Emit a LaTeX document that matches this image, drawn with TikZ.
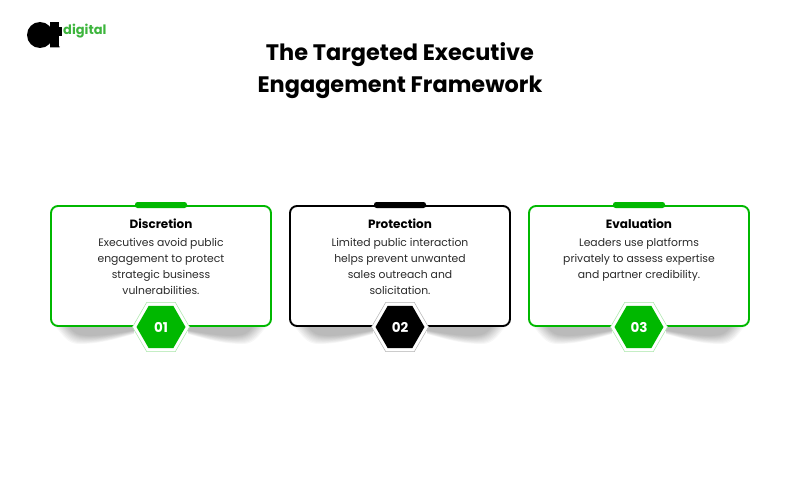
\documentclass[tikz,border=0pt]{standalone}
\usepackage{fontspec}
\setmainfont{Poppins}
\usetikzlibrary{shapes.geometric}
\definecolor{brandgreen}{HTML}{00B800}
\definecolor{logogreen}{HTML}{3DB53D}
\definecolor{bodygrey}{HTML}{2A2A2A}
\tikzset{
  cardbox/.style={draw=#1,line width=1.9pt,rounded corners=7pt,fill=white,minimum width=220pt,minimum height=120pt,inner sep=0pt},
  topbar/.style={fill=#1,rounded corners=2.5pt,minimum width=52pt,minimum height=6pt,inner sep=0pt},
  hexouter/.style={regular polygon,regular polygon sides=6,fill=white,draw=#1,line width=.5pt,minimum size=57pt,inner sep=0pt},
  hexinner/.style={regular polygon,regular polygon sides=6,fill=#1,minimum size=49pt,inner sep=0pt,text=white,font=\bfseries\fontsize{13.5}{16}\selectfont},
  cardhead/.style={font=\bfseries\fontsize{12}{15}\selectfont,text=black,anchor=center,inner sep=0pt},
  cardbody/.style={font=\fontsize{10.8}{16}\selectfont,text=bodygrey,align=center,anchor=north,inner sep=0pt},
  titletext/.style={font=\bfseries\fontsize{22.4}{32}\selectfont,text=black,align=center,inner sep=0pt},
}
\newcommand{\softshadow}[2]{% centre x, direction
  \foreach \k in {0,...,9}{
    \fill[black,opacity=0.033]
      ({#1+#2*27},326) -- ({#1+#2*(106-\k*1.5)},326)
      .. controls ({#1+#2*(99-\k*1.5)},{334+\k*.2}) and ({#1+#2*(94-\k*1.5)},{344-\k*.9}) .. ({#1+#2*(82-\k*1.5)},{344-\k*.9})
      .. controls ({#1+#2*(60)},{344-\k*.9}) and ({#1+#2*(42)},{338-\k*.5}) .. ({#1+#2*27},{334-\k*.4}) -- cycle;
  }
}
\begin{document}
\begin{tikzpicture}[x=1pt,y=-1pt]
\useasboundingbox (0,0) rectangle (800,500);
% logo
\fill[black] (40,35) circle (13);
\fill[black] (50,22) rectangle (59,47.5);
\fill[black] (59,47.5) -- (50,47.5) -- (50,40) -- (60,47) -- cycle;
\fill[black] (48,27) rectangle (62,36);
\node[anchor=west,inner sep=0pt,text=logogreen,font=\bfseries\fontsize{13}{16}\selectfont] (logotext) at (63,31.5) {digital};
% title
\node[titletext] (title) at (400,71) {The Targeted Executive\\Engagement Framework};
% shadows
\softshadow{161}{-1}\softshadow{161}{1}
\softshadow{400}{-1}\softshadow{400}{1}
\softshadow{639}{-1}\softshadow{639}{1}
% cards
\node[cardbox=brandgreen] (card1) at (161,266) {};
\node[cardbox=black] (card2) at (400,266) {};
\node[cardbox=brandgreen] (card3) at (639,266) {};
\node[topbar=brandgreen] (bar1) at (161,205) {};
\node[topbar=black] (bar2) at (400,205) {};
\node[topbar=brandgreen] (bar3) at (639,205) {};
% headings and texts
\node[cardhead] (head1) at (161,224) {Discretion};
\node[cardhead] (head2) at (400,224) {Protection};
\node[cardhead] (head3) at (639,224) {Evaluation};
\node[cardbody] (body1) at (161,238) {Executives avoid public\\engagement to protect\\strategic business\\vulnerabilities.};
\node[cardbody] (body2) at (400,238) {Limited public interaction\\helps prevent unwanted\\sales outreach and\\solicitation.};
\node[cardbody] (body3) at (639,238) {Leaders use platforms\\privately to assess expertise\\and partner credibility.};
% hexagons
\node[hexouter=brandgreen!35] (hexa1) at (161,327) {};
\node[hexouter=black!30] (hexa2) at (400,327) {};
\node[hexouter=brandgreen!35] (hexa3) at (639,327) {};
\node[hexinner=brandgreen] (hexb1) at (161,327) {01};
\node[hexinner=black] (hexb2) at (400,327) {02};
\node[hexinner=brandgreen] (hexb3) at (639,327) {03};
\end{tikzpicture}
\end{document}
